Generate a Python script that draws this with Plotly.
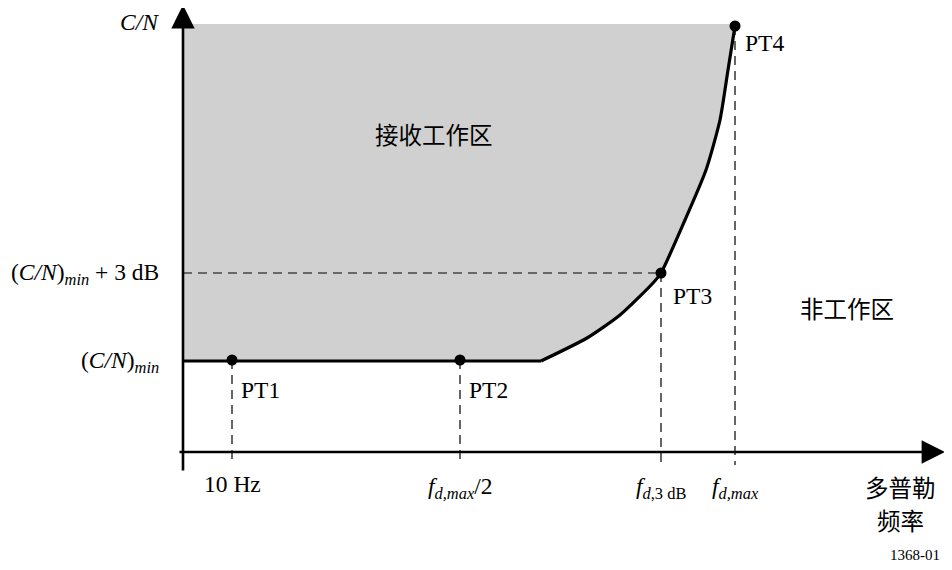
import plotly.graph_objects as go

# Schematic data (abstract units: x = Doppler frequency axis, y = C/N axis)
flat_x = [0, 358]
flat_y = [91, 91]
curve_x = [358, 404, 437, 470, 478, 502, 523, 537, 545, 552]
curve_y = [91, 114, 137, 169, 179, 232, 282, 332, 382, 426]
top_y = 428
point_names = ["PT1", "PT2", "PT3", "PT4"]
point_x = [49, 277, 478, 552]
point_y = [92, 92, 179, 426]
tick_labels = ["10 Hz", "<i>f</i><sub><i>d,max</i></sub>/2",
               "<i>f</i><sub><i>d</i>,3 dB</sub>", "<i>f</i><sub><i>d,max</i></sub>"]
y_labels = ["(<i>C/N</i>)<sub><i>min</i></sub>",
            "(<i>C/N</i>)<sub><i>min</i></sub> + 3 dB"]
y_label_vals = [91, 179]

SERIF = "Liberation Serif"
CJK = "Noto Sans CJK SC"

fig = go.Figure()

# gray operating region
fill_x = flat_x + curve_x + [curve_x[-1], 0]
fill_y = flat_y + curve_y + [top_y, top_y]
fig.add_trace(go.Scatter(x=fill_x, y=fill_y, fill="toself", fillcolor="#d0d0d0",
                         line=dict(width=0), mode="lines", hoverinfo="skip"))

# dashed guide lines
dash = "9px,6px"
fig.add_trace(go.Scatter(x=[0, point_x[2]], y=[point_y[2], point_y[2]], mode="lines",
                         line=dict(color="black", width=1.2, dash=dash)))
for px, py in zip(point_x, point_y):
    fig.add_trace(go.Scatter(x=[px, px], y=[py, -13], mode="lines",
                             line=dict(color="black", width=1.2, dash=dash)))

# boundary
fig.add_trace(go.Scatter(x=flat_x, y=flat_y, mode="lines",
                         line=dict(color="black", width=3.2)))
fig.add_trace(go.Scatter(x=curve_x, y=curve_y, mode="lines",
                         line=dict(color="black", width=3.2, shape="spline", smoothing=0.6)))

# points
fig.add_trace(go.Scatter(x=point_x, y=point_y, mode="markers",
                         marker=dict(color="black", size=11)))

# axes with arrows
fig.add_annotation(x=0, y=447, ax=0, ay=-20, xref="x", yref="y", axref="x", ayref="y",
                   showarrow=True, arrowhead=2, arrowsize=1.8, arrowwidth=2.6,
                   arrowcolor="black", text="")
fig.add_annotation(x=762, y=0, ax=-5, ay=0, xref="x", yref="y", axref="x", ayref="y",
                   showarrow=True, arrowhead=2, arrowsize=1.8, arrowwidth=2.6,
                   arrowcolor="black", text="")

fsz = 23.5
def txt(x, y, s, xanchor="center", yanchor="middle", size=fsz, family=SERIF):
    fig.add_annotation(x=x, y=y, text=s, showarrow=False, xanchor=xanchor, yanchor=yanchor,
                       font=dict(family=family, size=size, color="black"))

txt(-44, 430, "<i>C/N</i>")
for lab, yv in zip(y_labels, y_label_vals):
    txt(-22, yv - 1, lab, xanchor="right")

txt(point_x[0], -32, tick_labels[0])
for lab, xv in zip(tick_labels[1:], point_x[1:]):
    txt(xv, -36, lab)

offs = [(7, -30), (7, -30), (10, -23), (8, -17)]
for name, xv, yv, (dx, dy) in zip(point_names, point_x, point_y, offs):
    txt(xv + dx, yv + dy, name, xanchor="left")

txt(251, 318, "接收工作区", size=23.5, family=CJK)
txt(664, 144, "非工作区", size=23.5, family=CJK)
txt(717, -35, "多普勒", size=23.5, family=CJK)
txt(717, -68, "频率", size=23.5, family=CJK)
txt(732, -103, "1368-01", size=15)

# page body has an 8px offset; compensate so marks land where the reference puts them
fig.update_layout(
    width=944, height=562,
    margin=dict(l=0, r=0, t=0, b=0),
    paper_bgcolor="white", plot_bgcolor="white",
    showlegend=False,
    xaxis=dict(range=[-175, 769], visible=False, fixedrange=True),
    yaxis=dict(range=[-118, 444], visible=False, fixedrange=True),
)
fig.write_html("out.html")
